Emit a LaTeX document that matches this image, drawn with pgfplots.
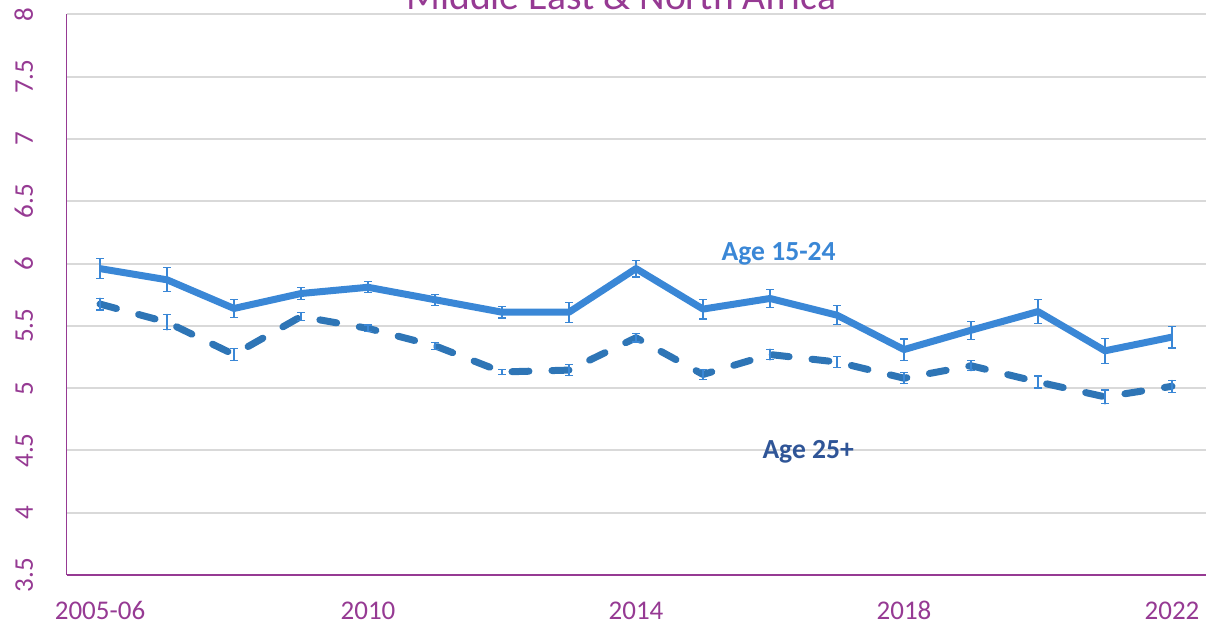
\documentclass[border=0pt]{standalone}
\usepackage{pgfplots}
\pgfplotsset{compat=1.18}
\usepackage{fontspec}
\setmainfont{Carlito}
\usetikzlibrary{calc}
\definecolor{purp}{HTML}{963A93}
\definecolor{cone}{HTML}{3A87D6}
\definecolor{ctwo}{HTML}{2E75B6}
\definecolor{ctxt}{HTML}{2F5597}
\definecolor{gridc}{HTML}{D9D9D9}
\begin{document}
\begin{tikzpicture}
\begin{axis}[
  name=ax,
  scale only axis,
  width=569.5pt, height=280.25pt,
  xmin=-0.5, xmax=16.5,
  ymin=3.5, ymax=8,
  xtick={0,4,8,12,16},
  xticklabels={2005-06,2010,2014,2018,2022},
  ytick={3.5,4,4.5,5,5.5,6,6.5,7,7.5,8},
  yticklabels={3.5,4,4.5,5,5.5,6,6.5,7,7.5,8},
  major tick length=0pt,
  axis x line*=bottom, axis y line*=left,
  axis line style={-, draw=purp, line width=0.75pt},
  ymajorgrids, grid style={gridc, line width=1pt},
  /pgf/number format/assume math mode=true,
  tick label style={font=\fontsize{13.5}{16}\selectfont, text=purp},
  xticklabel style={anchor=base, inner sep=0pt, yshift=-22pt},
  yticklabel style={xshift=-16.75pt, rotate=90, anchor=base, inner sep=0pt},
  clip=false,
]
\addplot[cone, line width=3.5pt, line join=round,
  error bars/.cd, y dir=both, y explicit,
  error bar style={cone, line width=0.6pt, solid},
  error mark options={cone, line width=0.6pt, mark size=2pt, solid, rotate=90}]
coordinates {
(0,5.96) +- (0,0.08)
(1,5.87) +- (0,0.097)
(2,5.64) +- (0,0.075)
(3,5.76) +- (0,0.047)
(4,5.81) +- (0,0.044)
(5,5.71) +- (0,0.044)
(6,5.61) +- (0,0.047)
(7,5.61) +- (0,0.08)
(8,5.96) +- (0,0.067)
(9,5.635) +- (0,0.08)
(10,5.72) +- (0,0.075)
(11,5.586) +- (0,0.078)
(12,5.31) +- (0,0.085)
(13,5.465) +- (0,0.073)
(14,5.615) +- (0,0.094)
(15,5.30) +- (0,0.10)
(16,5.41) +- (0,0.087)
};
\addplot[ctwo, line width=3.5pt, line cap=round, line join=round, dash pattern=on 8.5pt off 11.5pt,
  error bars/.cd, y dir=both, y explicit,
  error bar style={cone, line width=0.6pt, solid},
  error mark options={cone, line width=0.6pt, mark size=2pt, solid, rotate=90}]
coordinates {
(0,5.675) +- (0,0.047)
(1,5.53) +- (0,0.062)
(2,5.27) +- (0,0.047)
(3,5.575) +- (0,0.03)
(4,5.48) +- (0,0.027)
(5,5.34) +- (0,0.027)
(6,5.13) +- (0,0.02)
(7,5.145) +- (0,0.044)
(8,5.405) +- (0,0.034)
(9,5.11) +- (0,0.04)
(10,5.27) +- (0,0.043)
(11,5.21) +- (0,0.042)
(12,5.08) +- (0,0.043)
(13,5.18) +- (0,0.04)
(14,5.05) +- (0,0.048)
(15,4.93) +- (0,0.056)
(16,5.015) +- (0,0.047)
};
\node[font=\bfseries\fontsize{13.8}{16}\selectfont, text=cone] at (axis cs:10.13,6.08) {Age 15-24};
\node[font=\bfseries\fontsize{13.8}{16}\selectfont, text=ctxt] at (axis cs:10.57,4.49) {Age 25+};
\node[font=\fontsize{19.8}{22}\selectfont, text=purp, anchor=base, yshift=2.25pt] at (axis cs:7.78,8) {Middle East \& North Africa};
\end{axis}
\pgfresetboundingbox
\path[use as bounding box] ($(ax.south west)+(-33.25pt,-25.5pt)$) rectangle ($(ax.north east)+(1.75pt,7.25pt)$);
\end{tikzpicture}
\end{document}
